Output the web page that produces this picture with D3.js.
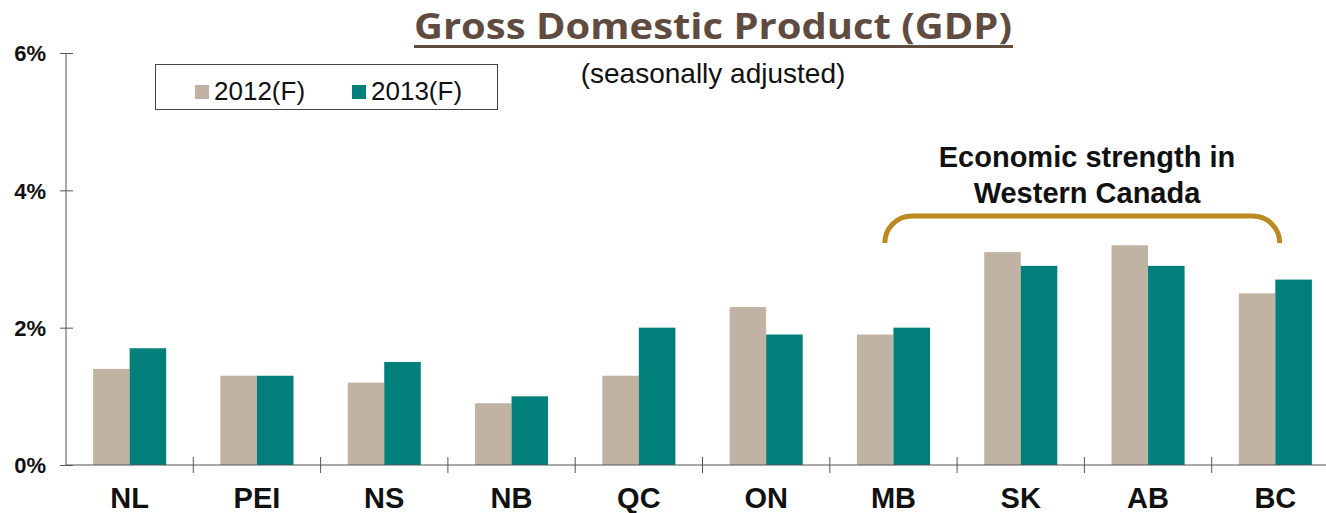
<!DOCTYPE html>
<html>
<head>
<meta charset="utf-8">
<script src="https://cdn.jsdelivr.net/npm/d3@7"></script>
<style>
  body { margin: 0; background: #fff; }
  #space { width: 1326px; height: 513px; }
</style>
</head>
<body>
<div id="space"></div>
<script>
var provinces = ["NL", "PEI", "NS", "NB", "QC", "ON", "MB", "SK", "AB", "BC"];
var seriesNames = ["2012(F)", "2013(F)"];
var gdp2012 = [1.4, 1.3, 1.2, 0.9, 1.3, 2.3, 1.9, 3.1, 3.2, 2.5];
var gdp2013 = [1.7, 1.3, 1.5, 1.0, 2.0, 1.9, 2.0, 2.9, 2.9, 2.7];
var yTicks = [0, 2, 4, 6];
var westStart = "MB", westEnd = "BC";

var colors = { "2012(F)": "#c0b3a3", "2013(F)": "#007f7b" };
var svg, x, x1, y;

function initSvg() {
    svg = d3.select("#space").append("svg")
        .attr("xmlns", "http://www.w3.org/2000/svg")
        .attr("width", 1326)
        .attr("height", 513);
    svg.append("g").attr("id", "bars");
    svg.append("g").attr("id", "axis");
    svg.append("g").attr("id", "text");
}

function drawChart() {
    x = d3.scaleBand().domain(provinces).range([66, 66 + 127.3 * provinces.length]);
    var bw = x.bandwidth();
    x1 = d3.scaleBand().domain(seriesNames).range([bw * 0.213, bw * 0.787]);
    y = d3.scaleLinear().domain([0, 6]).range([465, 53]);

    var rows = provinces.map(function (p, i) {
        return { prov: p, vals: [gdp2012[i], gdp2013[i]] };
    });

    //Bars
    svg.select("#bars").selectAll("g")
        .data(rows)
        .enter().append("g")
        .attr("transform", function (d) { return "translate(" + x(d.prov) + ",0)"; })
        .selectAll("rect")
        .data(function (d) { return d.vals.map(function (v, j) { return { s: seriesNames[j], v: v }; }); })
        .enter().append("rect")
        .attr("x", function (d) { return x1(d.s); })
        .attr("width", x1.bandwidth())
        .attr("y", function (d) { return y(d.v); })
        .attr("height", function (d) { return y(0) - y(d.v); })
        .attr("fill", function (d) { return colors[d.s]; });

    //Y axis
    var yAxis = svg.select("#axis").append("g")
        .attr("transform", "translate(66,0)")
        .call(d3.axisLeft(y).tickValues(yTicks).tickFormat(function (d) { return d + "%"; }).tickSize(6).tickPadding(14));
    yAxis.select(".domain").attr("stroke", "#555").attr("d", "M0," + y(6) + "V" + y(0));
    yAxis.selectAll(".tick line").attr("x1", 7).attr("x2", -6).attr("stroke", "#555");
    yAxis.selectAll(".tick text")
        .attr("font-family", "Liberation Sans, Arial, sans-serif")
        .attr("font-size", 22)
        .attr("font-weight", "bold")
        .attr("fill", "#111")
        .attr("dy", "0.36em");

    //X axis
    var xg = svg.select("#axis").append("g");
    xg.append("line")
        .attr("x1", 66).attr("x2", 1326)
        .attr("y1", y(0)).attr("y2", y(0))
        .attr("stroke", "#555");
    xg.selectAll(".xtick")
        .data(provinces.slice(1))
        .enter().append("line")
        .attr("class", "xtick")
        .attr("x1", function (d) { return x(d); })
        .attr("x2", function (d) { return x(d); })
        .attr("y1", y(0) - 8).attr("y2", y(0) + 8)
        .attr("stroke", "#555");
    xg.selectAll(".xlabel")
        .data(provinces)
        .enter().append("text")
        .attr("class", "xlabel")
        .attr("x", function (d) { return x(d) + x.bandwidth() / 2; })
        .attr("y", 508)
        .attr("text-anchor", "middle")
        .attr("font-family", "Liberation Sans, Arial, sans-serif")
        .attr("font-size", 29)
        .attr("font-weight", "bold")
        .attr("fill", "#111")
        .text(function (d) { return d; });
}

function drawTitle() {
    var t = svg.select("#text");
    t.append("text")
        .attr("x", 713)
        .attr("y", 39)
        .attr("text-anchor", "middle")
        .attr("font-family", "'Open Sans', sans-serif")
        .attr("font-size", 36)
        .attr("font-weight", "bold")
        .attr("fill", "#5f4b3f")
        .attr("textLength", 598)
        .attr("lengthAdjust", "spacingAndGlyphs")
        .text("Gross Domestic Product (GDP)");
    t.append("rect")
        .attr("x", 414).attr("y", 45)
        .attr("width", 599).attr("height", 3)
        .attr("fill", "#5f4b3f");

    t.append("text")
        .attr("x", 713)
        .attr("y", 83)
        .attr("text-anchor", "middle")
        .attr("font-family", "Liberation Sans, Arial, sans-serif")
        .attr("font-size", 28)
        .attr("fill", "#111")
        .text("(seasonally adjusted)");
}

function drawLegend() {
    var lg = svg.select("#text").append("g");
    lg.append("rect")
        .attr("x", 155.5).attr("y", 64.5)
        .attr("width", 342).attr("height", 45)
        .attr("fill", "#fff")
        .attr("stroke", "#444");
    var pos = [195, 352];
    seriesNames.forEach(function (s, i) {
        lg.append("rect")
            .attr("x", pos[i]).attr("y", 85)
            .attr("width", 14).attr("height", 14)
            .attr("fill", colors[s]);
        lg.append("text")
            .attr("x", pos[i] + 19)
            .attr("y", 100)
            .attr("font-family", "Liberation Sans, Arial, sans-serif")
            .attr("font-size", 26)
            .attr("fill", "#111")
            .text(s);
    });
}

function drawAnnotation() {
    var t = svg.select("#text");
    var lines = ["Economic strength in", "Western Canada"];
    t.selectAll(".note")
        .data(lines)
        .enter().append("text")
        .attr("class", "note")
        .attr("x", 1087)
        .attr("y", function (d, i) { return 167 + i * 36; })
        .attr("text-anchor", "middle")
        .attr("font-family", "Liberation Sans, Arial, sans-serif")
        .attr("font-size", 29)
        .attr("font-weight", "bold")
        .attr("fill", "#111")
        .text(function (d) { return d; });

    //Bracket over western provinces
    var x0 = x(westStart) + 55, x2 = x(westEnd) + 68, top = 216, bot = 243, r = 27;
    var path = d3.path();
    path.moveTo(x0, bot);
    path.arcTo(x0, top, x0 + r, top, r);
    path.lineTo(x2 - r, top);
    path.arcTo(x2, top, x2, bot, r);
    t.append("path")
        .attr("d", path.toString())
        .attr("fill", "none")
        .attr("stroke", "#b88a1f")
        .attr("stroke-width", 5);
}

initSvg();
drawChart();
drawTitle();
drawLegend();
drawAnnotation();
</script>
</body>
</html>
